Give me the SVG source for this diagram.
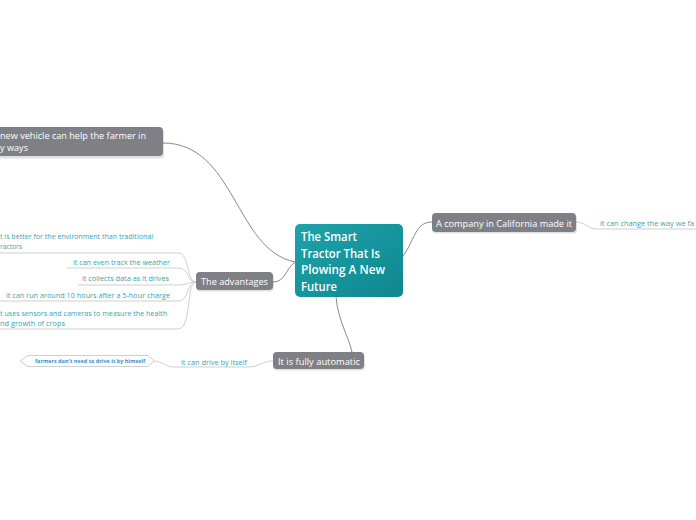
<svg xmlns="http://www.w3.org/2000/svg" width="696" height="520" viewBox="0 0 696 520">
<defs>
<linearGradient id="teal" x1="0" y1="0" x2="1" y2="1">
<stop offset="0" stop-color="#1ea3aa"/>
<stop offset="1" stop-color="#0f8690"/>
</linearGradient>
</defs>
<style>
.conn{fill:none;stroke:#8a8a8a;stroke-width:1}
.sub{fill:none;stroke:#cfcfcf;stroke-width:1}
.gnode{fill:#7f8085}
.shadow{fill:#000;opacity:0.12}
.gt{font-family:"Open Sans","Noto Sans","Liberation Sans",sans-serif;fill:#fff;font-weight:500;font-size:9.8px}
.ct{font-family:"Open Sans","Noto Sans","Liberation Sans",sans-serif;fill:#fff;font-weight:600;font-size:12px}
.tt{font-family:"Open Sans","Noto Sans","Liberation Sans",sans-serif;fill:#3aa3ad;font-size:7.8px}
</style>
<rect width="696" height="520" fill="#fff"/>
<g id="connectors">
<path class="conn" d="M163,143 C235,143 235,250 295,262"/>
<path class="conn" d="M295,262 C285,270 285,282 273,282"/>
<path class="conn" d="M403,256 C415,240 415,222 432,222"/>
<path class="conn" d="M336,297 C338,320 348,335 352,352"/>
<path class="sub" d="M0,253 L178,253 C190,253 186,282 196,282"/>
<path class="sub" d="M67,268 L178,268 C190,268 186,282 196,282"/>
<path class="sub" d="M78,285 L178,285 C188,285 188,282 196,282"/>
<path class="sub" d="M0,301 L178,301 C190,301 186,282 196,282"/>
<path class="sub" d="M0,329 L178,329 C192,329 186,282 196,282"/>
<path class="sub" d="M576,222 C586,222 587,229 597,229 L696,229"/>
<path class="sub" d="M273,361 C262,361 259,367 248,367 L174,367 C164,367 163,361 154,361"/>
</g>
<g id="central">
<rect x="295" y="224" width="108" height="73" rx="5" fill="url(#teal)"/>
<text class="ct" x="301" y="241" textLength="56" lengthAdjust="spacingAndGlyphs">The Smart</text>
<text class="ct" x="301" y="257.5" textLength="79" lengthAdjust="spacingAndGlyphs">Tractor That Is</text>
<text class="ct" x="301" y="274" textLength="84" lengthAdjust="spacingAndGlyphs">Plowing A New</text>
<text class="ct" x="301" y="290.5" textLength="36" lengthAdjust="spacingAndGlyphs">Future</text>
</g>
<g id="node-vehicle">
<rect class="shadow" x="-10" y="128.5" width="174" height="30" rx="4"/>
<rect class="gnode" x="-10" y="127" width="173" height="29" rx="4"/>
<text class="gt" x="0" y="139" textLength="146" lengthAdjust="spacingAndGlyphs">new vehicle can help the farmer in</text>
<text class="gt" x="0" y="151" textLength="28" lengthAdjust="spacingAndGlyphs">y ways</text>
</g>
<g id="node-advantages">
<rect class="shadow" x="196" y="273.5" width="78" height="18" rx="4"/>
<rect class="gnode" x="196" y="272" width="77" height="18" rx="4"/>
<text class="gt" x="201" y="284.5" textLength="67" lengthAdjust="spacingAndGlyphs">The advantages</text>
</g>
<g id="node-company">
<rect class="shadow" x="432" y="214.5" width="145" height="19" rx="4"/>
<rect class="gnode" x="432" y="213" width="144" height="19" rx="4"/>
<text class="gt" x="436" y="226.5" textLength="136" lengthAdjust="spacingAndGlyphs">A company in California made it</text>
</g>
<g id="node-automatic">
<rect class="shadow" x="273" y="353.5" width="92" height="17" rx="4"/>
<rect class="gnode" x="273" y="352" width="91" height="17" rx="4"/>
<text class="gt" x="278" y="364.5" textLength="82" lengthAdjust="spacingAndGlyphs">It is fully automatic</text>
</g>
<g id="item-environment">
<text class="tt" x="0" y="239" textLength="153" lengthAdjust="spacingAndGlyphs">t is better for the environment than traditional</text>
<text class="tt" x="0" y="249" textLength="22" lengthAdjust="spacingAndGlyphs">ractors</text>
</g>
<g id="item-weather"><text class="tt" x="73" y="265" textLength="97" lengthAdjust="spacingAndGlyphs">it can even track the weather</text></g>
<g id="item-data"><text class="tt" x="82" y="281" textLength="87" lengthAdjust="spacingAndGlyphs">it collects  data as it drives</text></g>
<g id="item-charge"><text class="tt" x="6" y="297.5" textLength="164" lengthAdjust="spacingAndGlyphs">it can run around 10 hours after a 5-hour charge</text></g>
<g id="item-sensors">
<text class="tt" x="0" y="316" textLength="167" lengthAdjust="spacingAndGlyphs">t uses sensors and cameras to measure the health</text>
<text class="tt" x="0" y="326" textLength="65" lengthAdjust="spacingAndGlyphs">nd growth  of crops</text>
</g>
<g id="item-change"><text class="tt" x="600" y="226" textLength="94" lengthAdjust="spacingAndGlyphs">it can change the way we fa</text></g>
<g id="item-drive"><text class="tt" x="181" y="364.5" textLength="66" lengthAdjust="spacingAndGlyphs">it can drive by itself</text></g>
<g id="item-farmers">
<polygon points="20,361 28,355.5 148,355.5 154,361 148,366.5 28,366.5" fill="#fff" stroke="#cfcfcf" stroke-width="1"/>
<text x="35" y="363" font-family="Open Sans, Noto Sans, Liberation Sans, sans-serif" font-size="5.6" font-weight="700" fill="#3b8fc9" textLength="110" lengthAdjust="spacingAndGlyphs">farmers don't  need to drive it by himself</text>
</g>
</svg>
